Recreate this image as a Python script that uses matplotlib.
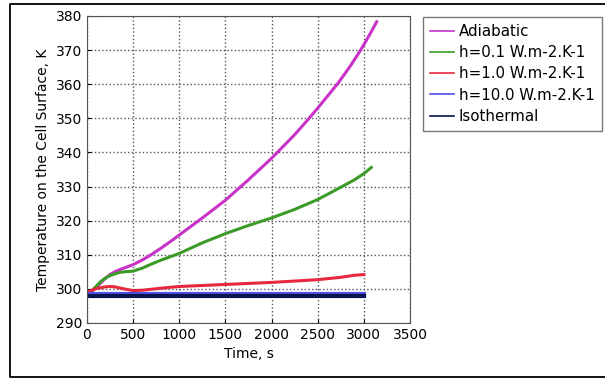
import matplotlib
matplotlib.use("Agg")
import matplotlib.pyplot as plt
from matplotlib.lines import Line2D

plt.rcParams['font.family'] = ['DejaVu Sans']

t_adi = [0, 50, 100, 150, 200, 250, 300, 350, 400, 500, 600, 700, 800, 900, 1000,
         1250, 1500, 1750, 2000, 2250, 2384, 2500, 2720, 2850, 2958, 3000, 3070, 3139]
T_adi = [298.3, 299.2, 300.4, 301.8, 303.1, 304.2, 305.0, 305.6, 306.1, 307.1, 308.5, 310.1, 311.9, 313.8, 315.8,
         320.8, 326.0, 332.0, 338.3, 345.2, 349.3, 353.0, 360.3, 365.2, 369.7, 371.6, 374.9, 378.3]

t_h01 = [0, 50, 100, 150, 200, 250, 300, 350, 400, 500, 600, 700, 800, 900, 1000,
         1250, 1500, 1750, 2000, 2250, 2500, 2750, 2900, 3000, 3080]
T_h01 = [298.3, 299.4, 300.8, 302.2, 303.2, 303.9, 304.4, 304.8, 305.0, 305.2, 306.1, 307.3, 308.4, 309.4, 310.4,
         313.5, 316.2, 318.6, 320.8, 323.3, 326.2, 329.8, 332.0, 333.8, 335.6]

t_h1 = [0, 100, 200, 250, 300, 400, 500, 600, 800, 1000, 1500, 2000, 2500, 2750, 2900, 3000]
T_h1 = [299.0, 300.1, 300.6, 300.7, 300.6, 300.0, 299.5, 299.6, 300.2, 300.7, 301.3, 301.9, 302.7, 303.4, 304.0, 304.2]

t_h10 = [0, 3000]
T_h10 = [298.4, 298.4]

t_iso = [0, 3000]
T_iso = [298.0, 298.0]

labels = ["Adiabatic", "h=0.1 W.m-2.K-1", "h=1.0 W.m-2.K-1", "h=10.0 W.m-2.K-1", "Isothermal"]
colors = ["#c832c8", "#3c9b28", "#e8283c", "#5050e6", "#0a1450"]
widths = [2.2, 2.2, 2.2, 3.0, 3.0]

fig = plt.figure(figsize=(6.05, 3.79), dpi=100)
ax = fig.add_axes([87/605, 1 - 323/379, (410-87)/605, (323-16)/379])

series = [(t_adi, T_adi), (t_h01, T_h01), (t_h1, T_h1), (t_h10, T_h10), (t_iso, T_iso)]
for (tx, ty), c, w in zip(series, colors, widths):
    ax.plot(tx, ty, color=c, lw=w)

ax.set_xlim(0, 3500)
ax.set_ylim(290, 380)
ax.set_xticks(range(0, 3501, 500))
ax.set_yticks(range(290, 381, 10))
ax.grid(True, linestyle=':', color='#555555', linewidth=1)
ax.tick_params(direction='in', labelsize=10, length=3)
ax.set_xlabel("Time, s", fontsize=10)
ax.set_ylabel("Temperature on the Cell Surface, K", fontsize=10)
for s in ax.spines.values():
    s.set_color('#555555')

handles = [Line2D([], [], color=c, lw=1.2) for c in colors]
leg = fig.legend(handles, labels, loc='upper left', bbox_to_anchor=(423/605, 1 - 17/379),
                 prop={'size': 10.8}, frameon=True, fancybox=False, handlelength=1.6,
                 handletextpad=0.35, borderpad=0.45, labelspacing=0.42, borderaxespad=0)
leg.get_frame().set_edgecolor('#555555')
leg.get_frame().set_linewidth(1)

# outer frame: top, left and bottom edges only
xl, xr, yt, yb = 10/605, 1.0, 1 - 4/379, 1 - 377/379
fig.add_artist(Line2D([xr, xl, xl, xr], [yt, yt, yb, yb], transform=fig.transFigure,
                      color='black', lw=1.3))

fig.savefig("out.png", dpi=100)
